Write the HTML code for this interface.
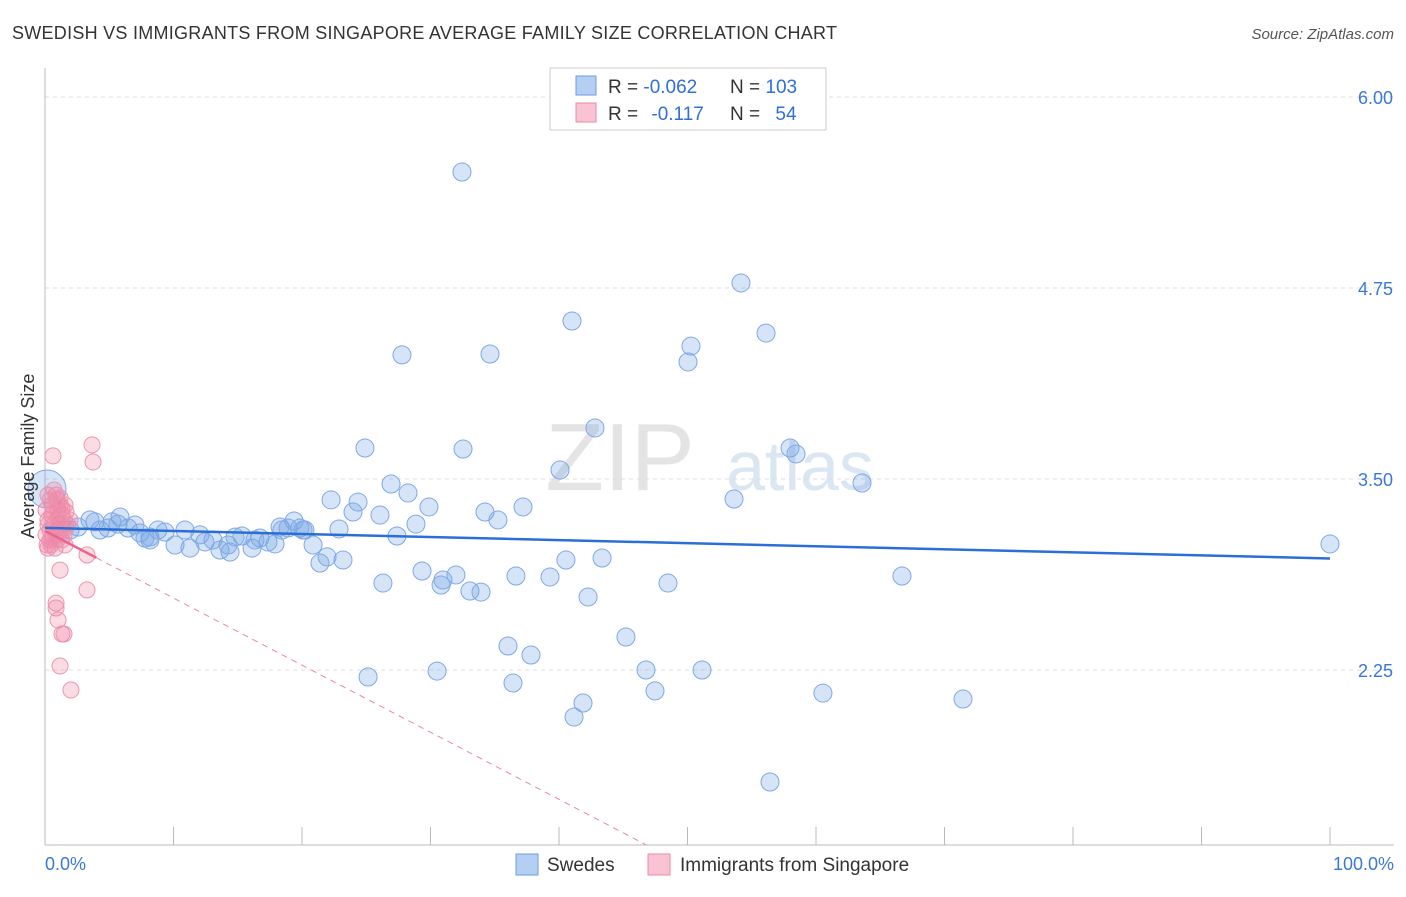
<!DOCTYPE html>
<html><head><meta charset="utf-8"><style>
body{margin:0;background:#fff;font-family:"Liberation Sans",sans-serif;}
svg text{font-family:"Liberation Sans",sans-serif;}
</style></head><body>
<svg id="chart" width="1406" height="892">
<text x="12" y="39" font-size="18" fill="#333" textLength="825">SWEDISH VS IMMIGRANTS FROM SINGAPORE AVERAGE FAMILY SIZE CORRELATION CHART</text>
<text x="1394" y="39" font-size="15" fill="#555" font-style="italic" text-anchor="end">Source: ZipAtlas.com</text>
<text x="620" y="490" font-size="96" fill="#e4e4e4" font-family="Liberation Serif" text-anchor="middle">ZIP</text>
<text x="800" y="490" font-size="70" fill="#dbe6f3" text-anchor="middle">atlas</text>
<g id="grid"></g>
<g id="axes"></g>
<g id="pts"></g>
<g id="trend"></g>
<text transform="translate(34,456) rotate(-90)" font-size="18" fill="#333" text-anchor="middle">Average Family Size</text>
<text x="45" y="870" font-size="18" fill="#3a78d8">0.0%</text>
<text x="1394" y="870" font-size="18" fill="#3a78d8" text-anchor="end">100.0%</text>
<g>
<rect x="550" y="68" width="276" height="62" fill="#fff" stroke="#ccc"/>
<rect x="576" y="76" width="20" height="19" fill="#b5cff3" stroke="#6a9be0"/>
<rect x="576" y="103" width="20" height="19" fill="#f9c3d3" stroke="#e88aa8"/>
<text x="608" y="93" font-size="19" fill="#333">R = <tspan fill="#2f6fd6">-0.062</tspan></text>
<text x="730" y="93" font-size="19" fill="#333">N = <tspan fill="#2f6fd6">103</tspan></text>
<text x="608" y="120" font-size="19" fill="#333">R =  <tspan fill="#2f6fd6" dx="8">-0.117</tspan></text>
<text x="730" y="120" font-size="19" fill="#333">N = <tspan fill="#2f6fd6" dx="10">54</tspan></text>
</g>
<g>
<rect x="516" y="854" width="22" height="21" fill="#b5cff3" stroke="#6a9be0"/>
<text x="547" y="871" font-size="19" fill="#333">Swedes</text>
<rect x="648" y="854" width="22" height="21" fill="#f9c3d3" stroke="#e88aa8"/>
<text x="680" y="871" font-size="19" fill="#333">Immigrants from Singapore</text>
</g>
</svg>
<script>
const yTicks=[6.00,4.75,3.50,2.25];
const xTickPct=[0,10,20,30,40,50,60,70,80,90,100];
const bluePx=[[462,172],[741,283],[572,321],[766,333],[691,346],[402,355],[490,354],[688,362],[595,428],[365,448],[463,449],[790,448],[796,454],[560,470],[862,483],[391,484],[408,493],[331,500],[358,502],[734,499],[429,507],[523,507],[485,512],[380,515],[353,512],[498,520],[416,524],[294,521],[339,529],[397,536],[303,530],[280,527],[1330,544],[313,545],[327,557],[343,560],[320,563],[566,560],[602,558],[422,571],[456,575],[516,576],[550,577],[383,583],[443,580],[668,583],[441,585],[470,591],[481,592],[588,597],[902,576],[626,637],[508,646],[531,655],[646,670],[702,670],[368,677],[437,671],[513,683],[655,691],[823,693],[963,699],[583,703],[574,717],[770,782],
[60,525],[70,530],[78,527],[95,522],[100,530],[108,528],[120,517],[128,528],[118,524],[140,533],[150,537],[158,530],[165,532],[175,545],[185,530],[190,548],[200,535],[205,542],[213,540],[220,550],[230,552],[235,537],[242,536],[252,548],[260,538],[268,542],[275,544],[282,530],[288,528],[300,528],[305,530],[150,540],[135,525],[145,538],[112,522],[90,520],[255,540],[228,545]];
const pinkPx=[[53,456],[92,445],[93,462],[60,570],[87,555],[87,590],[56,603],[56,608],[58,620],[62,634],[64,634],[60,666],[71,690],[57,500],[50,540],[55,548],[65,545],[48,495],[52,505],[58,510],[62,515],[48,520],[54,525],[60,530],[66,528],[50,530],[56,535],[62,540],[48,548],[52,515],[56,495],[60,505],[64,520],[68,525],[46,510],[50,500],[54,490],[58,518],[62,508],[66,512],[46,535],[52,538],[58,528],[64,535],[70,520],[48,525],[54,512],[60,498],[47,545],[53,530],[59,522],[65,505],[51,545],[57,540]];
const blueX=bluePx.map(p=>+((p[0]-45)/1285*100).toFixed(2));
const blueY=bluePx.map(p=>+(6-(p[1]-97)/152.8).toFixed(3));
const pinkX=pinkPx.map(p=>+((p[0]-45)/1285*100).toFixed(2));
const pinkY=pinkPx.map(p=>+(6-(p[1]-97)/152.8).toFixed(3));
const blueTrend=[3.18,2.98];
const pinkTrend=[3.16,1.105];
const pinkTrendEndPct=46.8;
const sx=v=>45+v/100*1285, sy=v=>97+(6-v)*152.8;
const NS="http://www.w3.org/2000/svg";
function mk(t,a,parent){const e=document.createElementNS(NS,t);for(const k in a)e.setAttribute(k,a[k]);parent.appendChild(e);return e;}
const grid=document.getElementById('grid'),axes=document.getElementById('axes'),pts=document.getElementById('pts'),tr=document.getElementById('trend');
yTicks.forEach(v=>{const l=mk('line',{x1:45,x2:1394,y1:sy(v),y2:sy(v),stroke:'#ddd','stroke-dasharray':'4,4'},grid);


const t=mk('text',{x:1393,y:sy(v)+7,'font-size':18,fill:'#3a78d8','text-anchor':'end'},grid);t.textContent=v.toFixed(2);

});
const ya=mk('line',{x1:45,x2:45,y1:68,y2:845,stroke:'#bbb'},axes);


const xa=mk('line',{x1:45,x2:1394,y1:845,y2:845,stroke:'#bbb'},axes);


xTickPct.forEach(p=>{const t=mk('line',{x1:sx(p),x2:sx(p),y1:827,y2:845,stroke:'#bbb'},axes);

});
blueX.forEach((x,i)=>{const c=mk('circle',{cx:sx(x),cy:sy(blueY[i]),r:9,fill:'rgba(120,165,230,0.3)',stroke:'#7fa8e6','stroke-width':1},pts);

});
const big=mk('circle',{cx:47,cy:489,r:19,fill:'rgba(120,165,230,0.3)',stroke:'#7fa8e6'},pts);


pinkX.forEach((x,i)=>{const c=mk('circle',{cx:sx(x),cy:sy(pinkY[i]),r:8,fill:'rgba(240,130,160,0.28)',stroke:'#eb95b0','stroke-width':1},pts);

});
const bt=mk('line',{x1:sx(0),y1:sy(blueTrend[0]),x2:sx(100),y2:sy(blueTrend[1]),stroke:'#2b6fd6','stroke-width':2.5},tr);


const pv=p=>pinkTrend[0]+(pinkTrend[1]-pinkTrend[0])*p/pinkTrendEndPct;
const ps=mk('line',{x1:sx(0),y1:sy(pv(0)),x2:sx(4),y2:sy(pv(4)),stroke:'#e8658e','stroke-width':2.5},tr);


const pd=mk('line',{x1:sx(4),y1:sy(pv(4)),x2:sx(pinkTrendEndPct),y2:sy(pinkTrend[1]),stroke:'#e8889f','stroke-width':1,'stroke-dasharray':'6,5'},tr);


</script>
</body></html>
